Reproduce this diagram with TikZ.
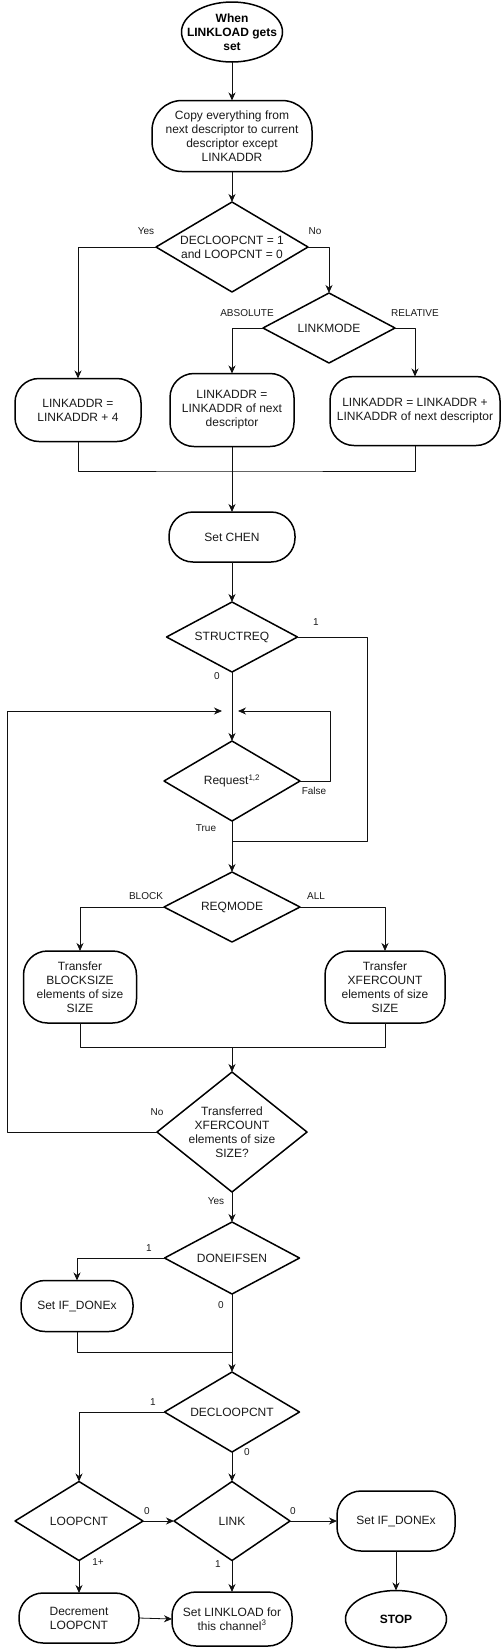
\documentclass[tikz,border=0pt]{standalone}
\usepackage{fontspec}
\setmainfont{Liberation Sans}
\usepackage{xcolor}
\usepackage{tikz}
\usetikzlibrary{arrows.meta,positioning,shapes.geometric}
\definecolor{ink}{HTML}{1A1A1A}
\definecolor{wire}{HTML}{111111}
\tikzset{
    every picture/.style={line join=round},
    procbox/.style={draw=black,fill=white,line width=1.5pt,rounded corners=24pt,
      inner sep=0pt,outer sep=0pt,font=\fontsize{12}{14}\selectfont,text=ink,align=center},
    terminal/.style={draw=black,fill=white,ellipse,line width=1.5pt,
      inner xsep=-10pt,inner ysep=0pt,outer sep=0pt,
      font=\fontsize{12}{14}\selectfont\bfseries,text=black,align=center},
    decision/.style={draw=black,fill=white,diamond,aspect=1.7,line width=1.5pt,
      inner sep=0pt,outer sep=0pt,font=\fontsize{12}{14}\selectfont,text=ink,align=center},
    flowarrow/.style={-{Stealth[length=8pt,width=7pt,inset=2.5pt]},draw=wire,
      line width=0.8pt},
    flowline/.style={draw=wire,line width=0.8pt},
    edgelabel/.style={inner sep=0pt,font=\fontsize{10}{12}\selectfont,text=ink}
}

\begin{document}
\begin{tikzpicture}[x=1pt,y=-1pt]
  \useasboundingbox (0,0) rectangle (502,1650);

  \node[terminal,minimum width=101pt,minimum height=60pt] (start) at (232,32) {When\\LINKLOAD gets\\set};
  \node[procbox,minimum width=160pt,minimum height=71pt,rounded corners=30pt] (copy) at (232,136)
    {Copy everything from\\next descriptor to current\\descriptor except\\LINKADDR};
  \node[decision,minimum width=152pt,minimum height=90pt] (dec1) at (232,247) {DECLOOPCNT = 1\\and LOOPCNT = 0};
  \node[decision,minimum width=132pt,minimum height=70pt] (linkmode) at (329,328) {LINKMODE};
  \node[procbox,minimum width=126pt,minimum height=63pt] (addfour) at (78,410) {LINKADDR =\\LINKADDR + 4};
  \node[procbox,minimum width=124pt,minimum height=73pt] (absaddr) at (232,410) {LINKADDR =\\LINKADDR of next\\descriptor};
  \node[procbox,minimum width=170pt,minimum height=69pt] (reladdr) at (415,411) {LINKADDR = LINKADDR +\\LINKADDR of next descriptor};
  \node[procbox,minimum width=126pt,minimum height=50pt] (chen) at (232,537) {Set CHEN};
  \node[decision,minimum width=131pt,minimum height=70pt] (structreq) at (232,637) {STRUCTREQ};
  \node[decision,minimum width=136pt,minimum height=80pt] (request) at (232,781) {Request\textsuperscript{1,2}};
  \node[decision,minimum width=136pt,minimum height=70pt] (reqmode) at (232,907) {REQMODE};
  \node[procbox,minimum width=113pt,minimum height=72pt] (xblock) at (80,987) {Transfer\\BLOCKSIZE\\elements of size\\SIZE};
  \node[procbox,minimum width=120pt,minimum height=72pt] (xall) at (385,987) {Transfer\\XFERCOUNT\\elements of size\\SIZE};
  \node[decision,aspect=1.25,inner sep=-3pt,minimum width=150pt,minimum height=120pt] (xferred) at (232,1132)
    {Transferred\\XFERCOUNT\\elements of size\\SIZE?};
  \node[decision,minimum width=135pt,minimum height=72pt] (doneifsen) at (232,1258) {DONEIFSEN};
  \node[procbox,minimum width=112pt,minimum height=51pt] (setdone) at (77,1306) {Set IF\_DONEx};
  \node[decision,minimum width=135pt,minimum height=80pt] (decloop) at (232,1412) {DECLOOPCNT};
  \node[decision,minimum width=128pt,minimum height=79pt] (loopcnt) at (79,1521) {LOOPCNT};
  \node[decision,minimum width=116pt,minimum height=79pt] (link) at (232,1521) {LINK};
  \node[procbox,minimum width=118pt,minimum height=60pt] (donelast) at (396,1521) {Set IF\_DONEx};
  \node[terminal,minimum width=101pt,minimum height=57pt] (stop) at (396,1619) {STOP};
  \node[procbox,minimum width=120pt,minimum height=50pt] (decrement) at (79,1618) {Decrement\\LOOPCNT};
  \node[procbox,minimum width=120pt,minimum height=54pt] (setload) at (232,1619) {Set LINKLOAD for\\this channel\textsuperscript{3}};

  \coordinate (merge1) at (232,471);
  \coordinate (rail) at (7,711);
  \coordinate (joinL) at (222,711);
  \coordinate (joinR) at (238,711);
  \coordinate (falsebend) at (330,711);
  \coordinate (bypass) at (367,841);
  \coordinate (merge2) at (232,1047);
  \coordinate (merge3) at (232,1352);

  \draw[flowarrow] (start) -- (copy);
  \draw[flowarrow] (copy) -- (dec1);
  \draw[flowarrow] (dec1.west) -| (addfour.north);
  \draw[flowarrow] (dec1.east) -| (linkmode.north);
  \draw[flowarrow] (linkmode.west) -| (absaddr.north);
  \draw[flowarrow] (linkmode.east) -| (reladdr.north);
  \draw[flowline] (addfour.south) |- (merge1) -| (reladdr.south);
  \draw[flowarrow] (absaddr.south) -- (chen.north);
  \draw[flowarrow] (chen) -- (structreq);
  \draw[flowarrow] (structreq.south) -- (request.north);
  \draw[flowline] (structreq.east) -| (bypass) -- (request.south |- bypass);
  \draw[flowarrow] (request.east) -| (falsebend) -- (joinR);
  \draw[flowarrow] (xferred.west) -| (rail) -- (joinL);
  \draw[flowarrow] (request.south) -- (reqmode.north);
  \draw[flowarrow] (reqmode.west) -| (xblock.north);
  \draw[flowarrow] (reqmode.east) -| (xall.north);
  \draw[flowline] (xblock.south) |- (merge2) -| (xall.south);
  \draw[flowarrow] (merge2) -- (xferred.north);
  \draw[flowarrow] (xferred.south) -- (doneifsen.north);
  \draw[flowarrow] (doneifsen.west) -| (setdone.north);
  \draw[flowline] (setdone.south) |- (merge3);
  \draw[flowarrow] (doneifsen.south) -- (decloop.north);
  \draw[flowarrow] (decloop.west) -| (loopcnt.north);
  \draw[flowarrow] (decloop.south) -- (link.north);
  \draw[flowarrow] (loopcnt.east) -- (link.west);
  \draw[flowarrow] (link.east) -- (donelast.west);
  \draw[flowarrow] (donelast.south) -- (stop.north);
  \draw[flowarrow] (loopcnt.south) -- (decrement.north);
  \draw[flowarrow] (link.south) -- (setload.north);
  \draw[flowarrow] (decrement.east) -- (setload.west);

  \node[edgelabel] (yesfirst) at (146,231) {Yes};
  \node[edgelabel] (nofirst) at (315,231) {No};
  \node[edgelabel] (absolute) at (247,313) {ABSOLUTE};
  \node[edgelabel] (relative) at (415,313) {RELATIVE};
  \node[edgelabel] (structone) at (316,622) {1};
  \node[edgelabel] (structzero) at (217,676) {0};
  \node[edgelabel] (false) at (314,791) {False};
  \node[edgelabel] (true) at (206,828) {True};
  \node[edgelabel] (block) at (146,896) {BLOCK};
  \node[edgelabel] (all) at (316,896) {ALL};
  \node[edgelabel] (xferno) at (157,1112) {No};
  \node[edgelabel] (xferyes) at (216,1201) {Yes};
  \node[edgelabel] (doneone) at (149,1248) {1};
  \node[edgelabel] (donezero) at (221,1305) {0};
  \node[edgelabel] (decone) at (153,1402) {1};
  \node[edgelabel] (deczero) at (247,1452) {0};
  \node[edgelabel] (loopzero) at (147,1511) {0};
  \node[edgelabel] (linkzero) at (293,1511) {0};
  \node[edgelabel] (loopmore) at (98,1562) {1+};
  \node[edgelabel] (linkone) at (218,1564) {1};
\end{tikzpicture}
\end{document}
